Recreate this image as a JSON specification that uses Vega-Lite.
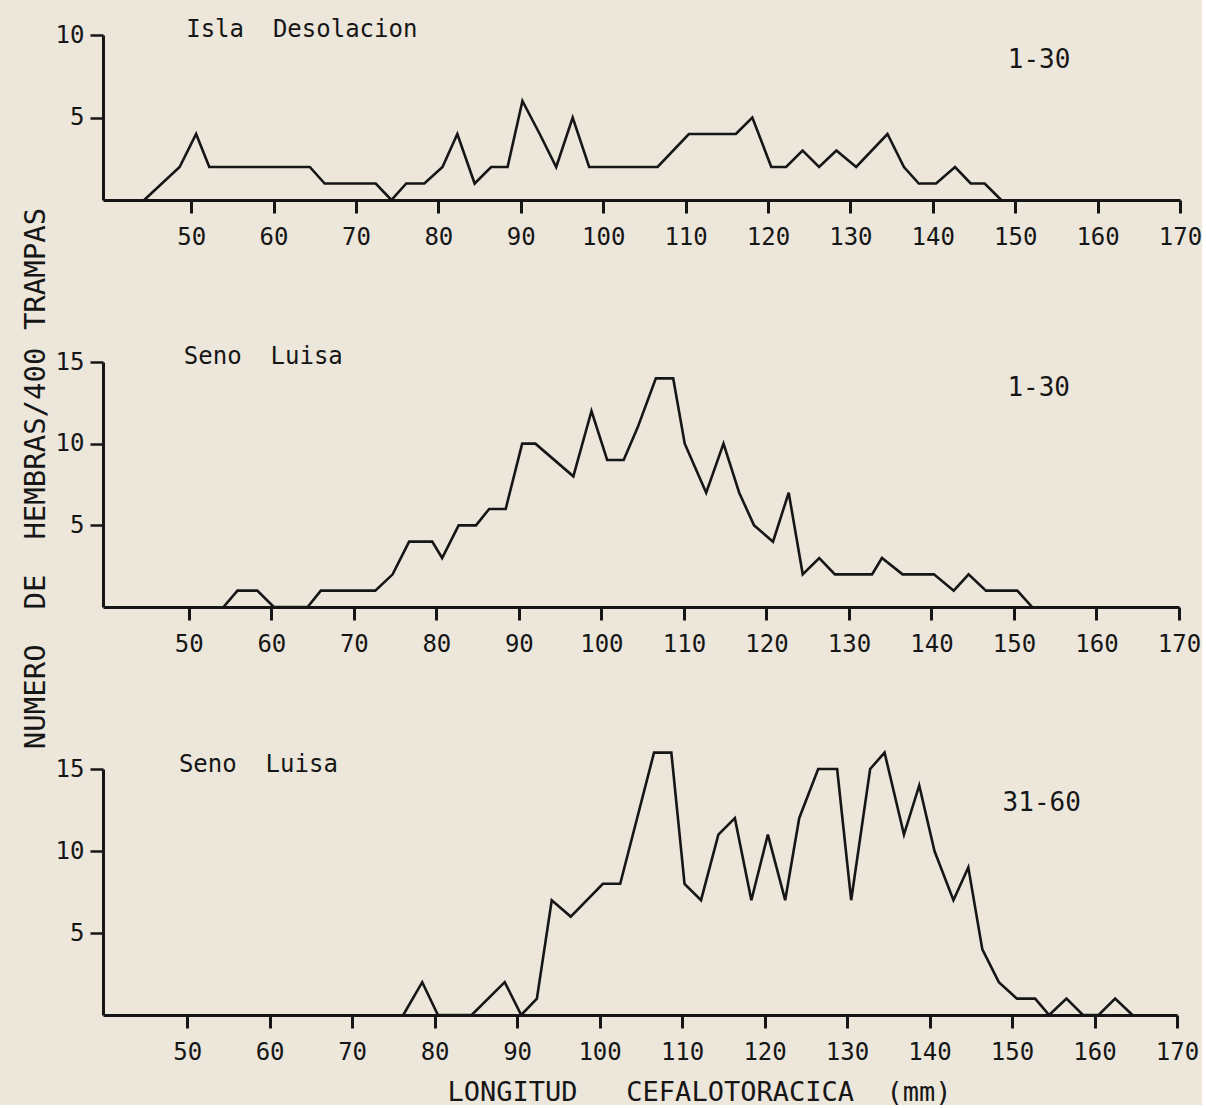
{
  "$schema": "https://vega.github.io/schema/vega-lite/v6.json",
  "background": "#ece6db",
  "padding": {"left": 20, "top": 18, "right": 0, "bottom": 0},
  "spacing": 162,
  "bounds": "flush",
  "config": {
    "view": {"stroke": null},
    "font": "DejaVu Sans Mono",
    "axis": {
      "grid": false,
      "domainColor": "#161616",
      "domainWidth": 3,
      "tickColor": "#161616",
      "tickWidth": 3,
      "tickSize": 13,
      "labelFont": "DejaVu Sans Mono",
      "labelFontSize": 24,
      "labelColor": "#161616",
      "titleFont": "DejaVu Sans Mono",
      "titleColor": "#161616",
      "titleFontWeight": "normal"
    },
    "axisX": {"labelPadding": 12, "labelFlush": false},
    "axisY": {"labelPadding": 6, "tickWidth": 2.5}
  },
  "datasets": {
    "p1": [
      {"x": 44.3, "y": 0}, {"x": 48.6, "y": 2}, {"x": 50.6, "y": 4}, {"x": 52.2, "y": 2},
      {"x": 64.4, "y": 2}, {"x": 66.2, "y": 1}, {"x": 72.4, "y": 1}, {"x": 74.3, "y": 0},
      {"x": 76.1, "y": 1}, {"x": 78.3, "y": 1}, {"x": 80.5, "y": 2}, {"x": 82.3, "y": 4},
      {"x": 84.4, "y": 1}, {"x": 86.4, "y": 2}, {"x": 88.4, "y": 2}, {"x": 90.2, "y": 6},
      {"x": 92.3, "y": 4}, {"x": 94.3, "y": 2}, {"x": 96.3, "y": 5}, {"x": 98.3, "y": 2},
      {"x": 106.6, "y": 2}, {"x": 110.4, "y": 4}, {"x": 116.1, "y": 4}, {"x": 118.1, "y": 5},
      {"x": 120.4, "y": 2}, {"x": 122.2, "y": 2}, {"x": 124.2, "y": 3}, {"x": 126.2, "y": 2},
      {"x": 128.3, "y": 3}, {"x": 130.7, "y": 2}, {"x": 134.5, "y": 4}, {"x": 136.5, "y": 2},
      {"x": 138.3, "y": 1}, {"x": 140.4, "y": 1}, {"x": 142.7, "y": 2}, {"x": 144.6, "y": 1},
      {"x": 146.3, "y": 1}, {"x": 148.3, "y": 0}
    ],
    "p2": [
      {"x": 54.2, "y": 0}, {"x": 55.9, "y": 1}, {"x": 58.3, "y": 1}, {"x": 60.3, "y": 0},
      {"x": 64.4, "y": 0}, {"x": 66.0, "y": 1}, {"x": 72.6, "y": 1}, {"x": 74.7, "y": 2},
      {"x": 76.7, "y": 4}, {"x": 79.5, "y": 4}, {"x": 80.7, "y": 3}, {"x": 82.7, "y": 5},
      {"x": 84.8, "y": 5}, {"x": 86.4, "y": 6}, {"x": 88.4, "y": 6}, {"x": 90.4, "y": 10},
      {"x": 92.0, "y": 10}, {"x": 96.6, "y": 8}, {"x": 98.8, "y": 12}, {"x": 100.7, "y": 9},
      {"x": 102.7, "y": 9}, {"x": 104.4, "y": 11}, {"x": 106.6, "y": 14}, {"x": 108.7, "y": 14},
      {"x": 110.1, "y": 10}, {"x": 112.7, "y": 7}, {"x": 114.8, "y": 10}, {"x": 116.7, "y": 7},
      {"x": 118.5, "y": 5}, {"x": 120.8, "y": 4}, {"x": 122.7, "y": 7}, {"x": 124.4, "y": 2},
      {"x": 126.4, "y": 3}, {"x": 128.3, "y": 2}, {"x": 132.8, "y": 2}, {"x": 134.0, "y": 3},
      {"x": 136.5, "y": 2}, {"x": 140.3, "y": 2}, {"x": 142.7, "y": 1}, {"x": 144.5, "y": 2},
      {"x": 146.6, "y": 1}, {"x": 150.4, "y": 1}, {"x": 152.2, "y": 0}
    ],
    "p3": [
      {"x": 76.2, "y": 0}, {"x": 78.5, "y": 2}, {"x": 80.4, "y": 0}, {"x": 84.5, "y": 0},
      {"x": 88.5, "y": 2}, {"x": 90.5, "y": 0}, {"x": 92.4, "y": 1}, {"x": 94.2, "y": 7},
      {"x": 96.5, "y": 6}, {"x": 100.4, "y": 8}, {"x": 102.5, "y": 8}, {"x": 106.6, "y": 16},
      {"x": 108.7, "y": 16}, {"x": 110.3, "y": 8}, {"x": 112.3, "y": 7}, {"x": 114.4, "y": 11},
      {"x": 116.4, "y": 12}, {"x": 118.4, "y": 7}, {"x": 120.4, "y": 11}, {"x": 122.5, "y": 7},
      {"x": 124.2, "y": 12}, {"x": 126.5, "y": 15}, {"x": 128.8, "y": 15}, {"x": 130.5, "y": 7},
      {"x": 132.8, "y": 15}, {"x": 134.55, "y": 16}, {"x": 136.9, "y": 11}, {"x": 138.75, "y": 14},
      {"x": 140.6, "y": 10}, {"x": 142.9, "y": 7}, {"x": 144.7, "y": 9}, {"x": 146.4, "y": 4},
      {"x": 148.4, "y": 2}, {"x": 150.6, "y": 1}, {"x": 152.8, "y": 1}, {"x": 154.5, "y": 0},
      {"x": 156.6, "y": 1}, {"x": 158.6, "y": 0}, {"x": 160.5, "y": 0}, {"x": 162.5, "y": 1},
      {"x": 164.6, "y": 0}
    ],
    "t1": [{"t": "Isla\u00a0\u00a0Desolacion"}],
    "t2": [{"t": "Seno\u00a0\u00a0Luisa"}],
    "r1": [{"t": "1-30"}],
    "r3": [{"t": "31-60"}]
  },
  "vconcat": [
    {
      "width": 1077,
      "height": 165,
      "layer": [
        {
          "data": {"name": "p1"},
          "mark": {"type": "line", "color": "#161616", "strokeWidth": 2.6},
          "encoding": {
            "x": {"field": "x", "type": "quantitative", "scale": {"domain": [39.3, 170], "nice": false, "zero": false},
                  "axis": {"values": [50, 60, 70, 80, 90, 100, 110, 120, 130, 140, 150, 160, 170], "title": null}},
            "y": {"field": "y", "type": "quantitative", "scale": {"domain": [0, 10], "nice": false},
                  "axis": {"values": [5, 10], "title": null}}
          }
        },
        {
          "data": {"name": "t1"},
          "mark": {"type": "text", "align": "left", "baseline": "middle", "fontSize": 24, "color": "#161616"},
          "encoding": {"x": {"datum": 49.4, "type": "quantitative"}, "y": {"datum": 10.3, "type": "quantitative"}, "text": {"field": "t"}}
        },
        {
          "data": {"name": "r1"},
          "mark": {"type": "text", "align": "center", "baseline": "middle", "fontSize": 26, "color": "#161616"},
          "encoding": {"x": {"datum": 152.9, "type": "quantitative"}, "y": {"datum": 8.5, "type": "quantitative"}, "text": {"field": "t"}}
        }
      ]
    },
    {
      "width": 1076,
      "height": 245,
      "layer": [
        {
          "data": {"name": "p2"},
          "mark": {"type": "line", "color": "#161616", "strokeWidth": 2.6},
          "encoding": {
            "x": {"field": "x", "type": "quantitative", "scale": {"domain": [39.6, 170], "nice": false, "zero": false},
                  "axis": {"values": [50, 60, 70, 80, 90, 100, 110, 120, 130, 140, 150, 160, 170], "title": null}},
            "y": {"field": "y", "type": "quantitative", "scale": {"domain": [0, 15], "nice": false},
                  "axis": {"values": [5, 10, 15], "title": "NUMERO\u00a0\u00a0DE\u00a0\u00a0HEMBRAS/400\u00a0TRAMPAS",
                           "titleFontSize": 29, "titleAngle": 270, "titleAlign": "center", "titleBaseline": "middle",
                           "titleX": -68, "titleY": 116}}
          }
        },
        {
          "data": {"name": "t2"},
          "mark": {"type": "text", "align": "left", "baseline": "middle", "fontSize": 24, "color": "#161616"},
          "encoding": {"x": {"datum": 49.4, "type": "quantitative"}, "y": {"datum": 15.3, "type": "quantitative"}, "text": {"field": "t"}}
        },
        {
          "data": {"name": "r1"},
          "mark": {"type": "text", "align": "center", "baseline": "middle", "fontSize": 26, "color": "#161616"},
          "encoding": {"x": {"datum": 153.0, "type": "quantitative"}, "y": {"datum": 13.4, "type": "quantitative"}, "text": {"field": "t"}}
        }
      ]
    },
    {
      "width": 1074,
      "height": 246,
      "layer": [
        {
          "data": {"name": "p3"},
          "mark": {"type": "line", "color": "#161616", "strokeWidth": 2.6},
          "encoding": {
            "x": {"field": "x", "type": "quantitative", "scale": {"domain": [39.8, 170], "nice": false, "zero": false},
                  "axis": {"values": [50, 60, 70, 80, 90, 100, 110, 120, 130, 140, 150, 160, 170],
                           "title": "LONGITUD\u00a0\u00a0\u00a0CEFALOTORACICA\u00a0\u00a0(mm)",
                           "titleFontSize": 27, "titleAlign": "center", "titleBaseline": "middle",
                           "titleX": 596, "titleY": 77}},
            "y": {"field": "y", "type": "quantitative", "scale": {"domain": [0, 15], "nice": false},
                  "axis": {"values": [5, 10, 15], "title": null}}
          }
        },
        {
          "data": {"name": "t2"},
          "mark": {"type": "text", "align": "left", "baseline": "middle", "fontSize": 24, "color": "#161616"},
          "encoding": {"x": {"datum": 49.0, "type": "quantitative"}, "y": {"datum": 15.26, "type": "quantitative"}, "text": {"field": "t"}}
        },
        {
          "data": {"name": "r3"},
          "mark": {"type": "text", "align": "center", "baseline": "middle", "fontSize": 26, "color": "#161616"},
          "encoding": {"x": {"datum": 153.6, "type": "quantitative"}, "y": {"datum": 12.95, "type": "quantitative"}, "text": {"field": "t"}}
        }
      ]
    }
  ]
}
